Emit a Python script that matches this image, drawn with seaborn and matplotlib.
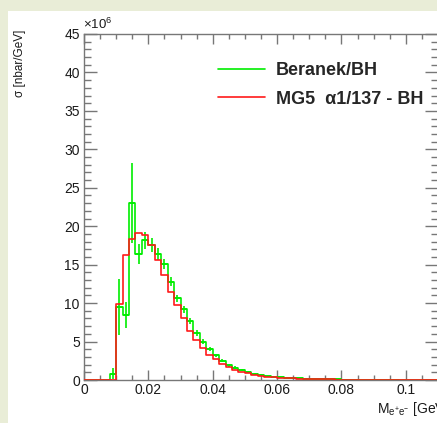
import numpy as np
import pandas as pd
import matplotlib
matplotlib.use("Agg")
import matplotlib.pyplot as plt
import seaborn as sns
from matplotlib.lines import Line2D
from matplotlib.patches import Rectangle
from matplotlib.ticker import MultipleLocator, FuncFormatter

# ---------------- data ----------------
x_min, x_max, n_bins = 0.0, 0.11, 55

mg5_bh = [0, 0, 0, 0, 0,
          9.9, 16.2, 18.3, 19.1, 18.9,
          17.6, 15.6, 13.6, 11.5, 9.7,
          8.1, 6.4, 5.2, 4.1, 3.3,
          2.7, 2.1, 1.7, 1.35, 1.05,
          0.85, 0.7, 0.55, 0.45, 0.37,
          0.3, 0.25, 0.2, 0.17, 0.14,
          0.12, 0.1, 0.08, 0.07, 0.06,
          0.05, 0.045, 0.04, 0.035, 0.03,
          0.027, 0.024, 0.021, 0.018, 0.016,
          0.014, 0.012, 0.011, 0.01, 0.009]

beranek_bh = [0, 0, 0, 0, 0.8,
              9.5, 8.5, 23.0, 16.4, 18.2,
              17.6, 16.4, 15.1, 12.8, 10.6,
              9.2, 7.7, 6.1, 5.0, 4.0,
              3.2, 2.5, 1.9, 1.6, 1.3,
              1.0, 0.8, 0.65, 0.5, 0.4,
              0.35, 0.3, 0.25, 0.2, 0.17,
              0.14, 0.12, 0.1, 0.08, 0.07,
              0.06, 0.05, 0.04, 0.035, 0.03,
              0.025, 0.02, 0.018, 0.015, 0,
              0, 0, 0, 0, 0]

beranek_err = [0, 0, 0, 0, 0.7,
               3.6, 1.7, 5.2, 1.3, 1.1,
               0.9, 0.8, 0.7, 0.6, 0.5,
               0.45, 0.4, 0.35, 0.3, 0.25,
               0.22, 0.2, 0.18, 0.16, 0.14,
               0.12, 0.1, 0.09, 0.08, 0.07,
               0.06, 0.05, 0.05, 0.04, 0.04,
               0.04, 0.03, 0.03, 0.03, 0.03,
               0.02, 0.02, 0.02, 0.02, 0.02,
               0.02, 0.02, 0.02, 0.02, 0,
               0, 0, 0, 0, 0]

series_labels = ["Beranek/BH", "MG5  \u03b11/137 - BH"]
y_ticks = [0, 5, 10, 15, 20, 25, 30, 35, 40, 45]
x_ticks = [0, 0.02, 0.04, 0.06, 0.08, 0.1]

# ---------------- build ----------------
edges = np.linspace(x_min, x_max, n_bins + 1)
centers = 0.5 * (edges[:-1] + edges[1:])
half_w = 0.5 * (edges[1] - edges[0])
df = pd.DataFrame({"m": centers, "mg5": mg5_bh, "ber": beranek_bh, "err": beranek_err})

sns.set_style("ticks")
plt.rcParams["font.family"] = ["Liberation Sans", "DejaVu Sans"]
plt.rcParams["mathtext.fontset"] = "custom"
plt.rcParams["mathtext.rm"] = "Liberation Sans"
plt.rcParams["mathtext.it"] = "Liberation Sans:italic"
plt.rcParams["mathtext.bf"] = "Liberation Sans:bold"

W, H = 437, 423
fig = plt.figure(figsize=(W / 100, H / 100), dpi=100)
fig.patch.set_facecolor("white")
beige = "#E9EDD7"
fig.patches.append(Rectangle((0, 1 - 11 / H), 1, 11 / H, transform=fig.transFigure,
                             facecolor=beige, edgecolor="none", zorder=0))
fig.patches.append(Rectangle((0, 0), 8 / W, 1, transform=fig.transFigure,
                             facecolor=beige, edgecolor="none", zorder=0))

left, right, bottom, top = 84, 438, 380, 34
ax = fig.add_axes([left / W, 1 - bottom / H, (right - left) / W, (bottom - top) / H])
ax.set_facecolor("white")

green = "#00ee00"
red = "#ff1a1a"
sns.histplot(data=df, x="m", weights="ber", bins=n_bins, binrange=(x_min, x_max),
             element="step", fill=False, color=green, linewidth=1.2, ax=ax, zorder=2)
sub = df[df["ber"] > 0]
ax.errorbar(sub["m"], sub["ber"], yerr=sub["err"], xerr=half_w, fmt="none",
            ecolor=green, elinewidth=1.2, capsize=0, zorder=3)
sns.histplot(data=df, x="m", weights="mg5", bins=n_bins, binrange=(x_min, x_max),
             element="step", fill=False, color=red, linewidth=1.2, ax=ax, zorder=4)

ax.set_xlim(x_min, x_max)
ax.set_ylim(0, 45)
ax.set_xlabel("")
ax.set_ylabel("")

axis_col = "#777777"
for s in ax.spines.values():
    s.set_color(axis_col)
    s.set_linewidth(1.0)
    s.set_visible(True)

ax.set_xticks(x_ticks)
ax.set_yticks(y_ticks)
ax.xaxis.set_minor_locator(MultipleLocator(0.005))
ax.yaxis.set_minor_locator(MultipleLocator(1))
ax.xaxis.set_major_formatter(FuncFormatter(lambda v, p: "%g" % round(v, 4)))
ax.tick_params(axis="both", which="both", direction="in", top=True, right=True,
               color=axis_col, width=1.0, labelcolor="#1a1a1a", labelsize=10)
ax.tick_params(axis="x", which="major", length=7.2, pad=2)
ax.tick_params(axis="x", which="minor", length=3.6)
ax.tick_params(axis="y", which="major", length=9.4, pad=3)
ax.tick_params(axis="y", which="minor", length=4.7)

fig.text(83 / W, 1 - 32 / H, "\u00d710$^{6}$", ha="left", va="bottom", fontsize=9.5,
         color="#1a1a1a")
fig.text(20 / W, 1 - 30 / H, "\u03c3 [nbar/GeV]", rotation=90, ha="center", va="top",
         fontsize=8.5, color="#1a1a1a")
fig.text(377 / W, 1 - 413 / H, "M$_{\\mathrm{e^{+}e^{-}}}$ [GeV]", ha="left",
         va="baseline", fontsize=10, color="#1a1a1a")

handles = [Line2D([], [], color=green, lw=1.2), Line2D([], [], color=red, lw=1.2)]
ax.legend(handles, series_labels, loc="upper left",
          bbox_to_anchor=(218 / W, 1 - 62 / H), bbox_transform=fig.transFigure,
          frameon=False, borderpad=0, borderaxespad=0, handlelength=2.6,
          handletextpad=0.6, labelspacing=0.65,
          prop={"weight": "bold", "size": 13, "family": "Liberation Sans"})

fig.savefig("out.png", dpi=100, facecolor=fig.get_facecolor())
